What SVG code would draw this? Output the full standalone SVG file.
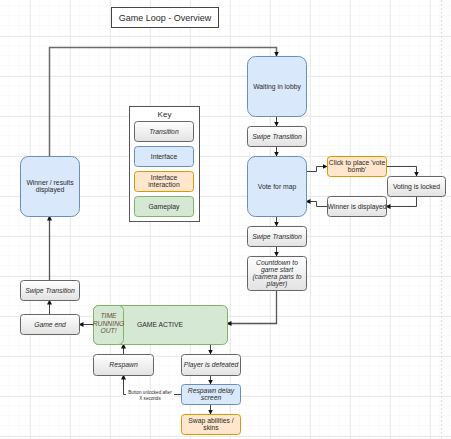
<svg xmlns="http://www.w3.org/2000/svg" width="451" height="439" viewBox="0 0 451 439">
<defs>
<pattern id="minor" width="10" height="10" patternUnits="userSpaceOnUse" x="0" y="6">
<path d="M10 0V10M0 10H10" fill="none" stroke="#f4f4f4" stroke-width="1"/>
</pattern>
<pattern id="major" width="40" height="40" patternUnits="userSpaceOnUse" x="30" y="36">
<path d="M0.5 0V40M0 0.5H40" fill="none" stroke="#ebebeb" stroke-width="1"/>
</pattern>
<linearGradient id="gray" x1="0" y1="0" x2="0" y2="1">
<stop offset="0" stop-color="#ffffff"/>
<stop offset="1" stop-color="#e2e2e2"/>
</linearGradient>
<marker id="arr" viewBox="0 0 10 10" refX="9" refY="5" markerWidth="5" markerHeight="5" orient="auto" markerUnits="userSpaceOnUse">
<path d="M0 0L10 5L0 10z" fill="#111"/>
</marker>
<style>
.t{fill:url(#gray);stroke:#666;stroke-width:1}
.i{fill:#dae8fc;stroke:#6c8ebf;stroke-width:1}
.o{fill:#ffe6cc;stroke:#d79b00;stroke-width:1}
.g{fill:#d5e8d4;stroke:#82b366;stroke-width:1}
text{font-family:"Liberation Sans",Arial,sans-serif;font-size:6.8px;fill:#2a2a2a;text-anchor:middle}
.it{font-style:italic}
.c{fill:none;stroke:#444;stroke-width:1;marker-end:url(#arr)}
</style>
</defs>
<rect width="451" height="439" fill="#fff"/>
<rect width="451" height="439" fill="url(#minor)"/>
<rect width="451" height="439" fill="url(#major)"/>
<line x1="441.5" y1="0" x2="441.5" y2="439" stroke="#ddd" stroke-dasharray="2,2"/>

<g id="title">
<rect x="111.5" y="7.5" width="107" height="20" fill="#fff" stroke="#444"/>
<text x="165" y="20.5" style="font-size:9px">Game Loop - Overview</text>
</g>

<g id="connectors">
<path class="c" d="M49.5 156V47.5H276.5V56" style="stroke:#6a6a6a;stroke-width:1.5"/>
<path class="c" d="M276.5 116V126"/>
<path class="c" d="M276.5 146V156"/>
<path class="c" d="M306 171.5H316.5V166.5H327"/>
<path class="c" d="M386 166.5H416.5V176"/>
<path class="c" d="M416.5 196V206.5H386"/>
<path class="c" d="M327 206.5H316.5V201.5H306"/>
<path class="c" d="M276.5 216V226"/>
<path class="c" d="M276.5 246V256"/>
<path class="c" d="M276.5 290V323.5H227" style="stroke:#555;stroke-width:1.3"/>
<path class="c" d="M93 324.5H79"/>
<path class="c" d="M49.5 314V300"/>
<path class="c" d="M49.5 280V216" style="stroke:#555;stroke-width:1.3"/>
<path class="c" d="M123.5 354V344"/>
<path class="c" d="M210.5 344V354"/>
<path class="c" d="M210.5 375V384"/>
<path class="c" d="M210.5 404V414"/>
<path class="c" d="M181 394.5H123.5V375"/>
<rect x="126" y="389" width="48" height="11" fill="#fff"/>
<text x="150" y="393.5" style="font-size:4.6px">Button unlocked after</text>
<text x="150" y="399.5" style="font-size:4.6px">X seconds</text>
</g>

<g id="key">
<rect x="129.5" y="106.5" width="70" height="115" fill="#fff" stroke="#555"/>
<text x="164.5" y="117" style="font-size:8px">Key</text>
<rect class="t" x="134.5" y="121.5" width="59" height="20" rx="3"/>
<text class="it" x="164" y="133.5">Transition</text>
<rect class="i" x="134.5" y="146.5" width="59" height="20" rx="3"/>
<text x="164" y="158.5">Interface</text>
<rect class="o" x="134.5" y="171.5" width="59" height="20" rx="3"/>
<text x="164" y="179.5">Interface</text>
<text x="164" y="187">interaction</text>
<rect class="g" x="134.5" y="196.5" width="59" height="20" rx="3"/>
<text x="164" y="208.5">Gameplay</text>
</g>

<g id="lobby">
<rect class="i" x="247.5" y="56.5" width="59" height="60" rx="8"/>
<text x="277" y="88.5">Waiting in lobby</text>
</g>
<g id="swipe1">
<rect class="t" x="247.5" y="126.5" width="59" height="20" rx="3"/>
<text class="it" x="277" y="138.5">Swipe Transition</text>
</g>
<g id="vote">
<rect class="i" x="247.5" y="156.5" width="59" height="60" rx="8"/>
<text x="277" y="188.5">Vote for map</text>
</g>
<g id="votebomb">
<rect class="o" x="327.5" y="156.5" width="59" height="20" rx="3"/>
<text x="357" y="164.5">Click to place 'vote</text>
<text x="357" y="172">bomb'</text>
</g>
<g id="locked">
<rect class="t" x="387.5" y="176.5" width="58" height="20" rx="3"/>
<text x="416.5" y="188.5">Voting is locked</text>
</g>
<g id="winnerdisp">
<rect class="t" x="327.5" y="196.5" width="59" height="20" rx="3"/>
<text x="357" y="208.5">Winner is displayed</text>
</g>
<g id="swipe2">
<rect class="t" x="247.5" y="226.5" width="59" height="20" rx="3"/>
<text class="it" x="277" y="238.5">Swipe Transition</text>
</g>
<g id="countdown">
<rect class="t" x="247.5" y="256.5" width="59" height="34" rx="3"/>
<text class="it" x="277" y="264.5">Countdown to</text>
<text class="it" x="277" y="271.5">game start</text>
<text class="it" x="277" y="278.5">(camera pans to</text>
<text class="it" x="277" y="285.5">player)</text>
</g>
<g id="gameactive">
<rect class="g" x="93.5" y="305.5" width="134" height="39" rx="5"/>
<rect class="g" x="93.5" y="305.5" width="30" height="39" rx="5"/>
<text class="it" x="108.5" y="318" style="fill:#6b4c3c">TIME</text>
<text class="it" x="108.5" y="325.5" style="fill:#6b4c3c">RUNNING</text>
<text class="it" x="108.5" y="333" style="fill:#6b4c3c">OUT!</text>
<text x="160" y="327">GAME ACTIVE</text>
</g>
<g id="gameend">
<rect class="t" x="20.5" y="314.5" width="59" height="20" rx="3"/>
<text class="it" x="50" y="327">Game end</text>
</g>
<g id="swipe3">
<rect class="t" x="20.5" y="280.5" width="59" height="20" rx="3"/>
<text class="it" x="50" y="292.5">Swipe Transition</text>
</g>
<g id="winnerresults">
<rect class="i" x="20.5" y="156.5" width="59" height="60" rx="8"/>
<text x="50" y="184.5">Winner / results</text>
<text x="50" y="192">displayed</text>
</g>
<g id="respawn">
<rect class="t" x="93.5" y="354.5" width="60" height="21" rx="3"/>
<text class="it" x="123.5" y="367">Respawn</text>
</g>
<g id="defeated">
<rect class="t" x="181.5" y="354.5" width="59" height="21" rx="3"/>
<text class="it" x="211" y="367">Player is defeated</text>
</g>
<g id="respawndelay">
<rect class="i" x="181.5" y="384.5" width="59" height="20" rx="3"/>
<text class="it" x="211" y="392.5">Respawn delay</text>
<text class="it" x="211" y="400">screen</text>
</g>
<g id="swap">
<rect class="o" x="181.5" y="414.5" width="59" height="20" rx="3"/>
<text x="211" y="422.5">Swap abilities /</text>
<text x="211" y="430">skins</text>
</g>
</svg>
